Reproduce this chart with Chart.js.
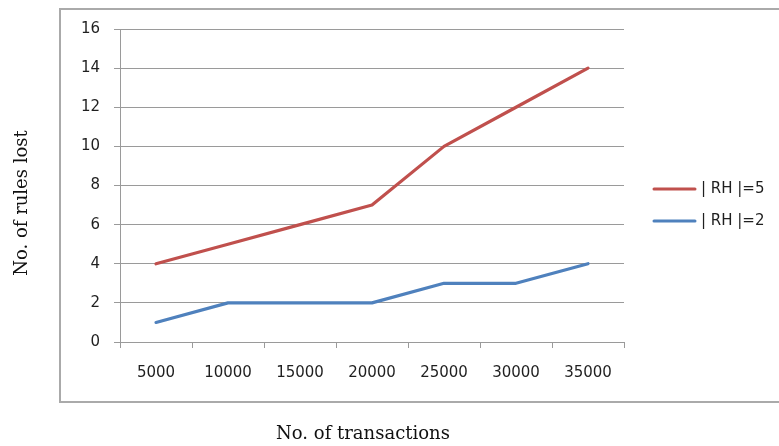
<!DOCTYPE html>
<html>
<head>
<meta charset="utf-8">
<script src="https://cdn.jsdelivr.net/npm/chart.js@4"></script>
<style>
  html, body { margin: 0; padding: 0; background: #fff; overflow: hidden; }
  #wrap { width: 779px; height: 446px; overflow: hidden; }
  #c { display: block; }
</style>
</head>
<body>
<div id="wrap"><canvas id="c" width="779" height="446"></canvas></div>
<script>
// Number of transactions on the x axis
const transactions = ['5000', '10000', '15000', '20000', '25000', '30000', '35000'];
// Rules lost for each right-hand-side size
const rulesLostRH5 = [4, 5, 6, 7, 10, 12, 14];
const rulesLostRH2 = [1, 2, 2, 2, 3, 3, 4];
const seriesNames = ['| RH |=5', '| RH |=2'];
const seriesColors = ['#c0504d', '#4f81bd'];
const yMin = 0, yMax = 16, yStep = 2;
const xTitle = 'No. of transactions';
const yTitle = 'No. of rules lost';

const tickFont = { family: 'DejaVu Sans', size: 15 };
const titleFont = '18px "DejaVu Serif"';
const gridColor = '#9a9a9a';
const textColor = '#1f1f1f';

// Frame, axis titles and legend drawn around the plot
const decorations = {
  id: 'decorations',
  beforeDraw(chart) {
    const ctx = chart.ctx;
    ctx.save();
    ctx.strokeStyle = '#aaaaaa';
    ctx.lineWidth = 2;
    ctx.beginPath();
    ctx.moveTo(779, 9);
    ctx.lineTo(60, 9);
    ctx.lineTo(60, 402);
    ctx.lineTo(779, 402);
    ctx.stroke();
    ctx.restore();
  },
  afterDraw(chart) {
    const ctx = chart.ctx;
    ctx.save();
    ctx.fillStyle = '#111';
    ctx.font = titleFont;
    ctx.textAlign = 'center';
    ctx.textBaseline = 'middle';
    ctx.fillText(xTitle, 363, 434);
    ctx.translate(22, 203);
    ctx.rotate(-Math.PI / 2);
    ctx.fillText(yTitle, 0, 0);
    ctx.restore();

    ctx.save();
    ctx.font = tickFont.size + 'px "' + tickFont.family + '"';
    ctx.textAlign = 'left';
    ctx.textBaseline = 'middle';
    chart.data.datasets.forEach((ds, i) => {
      const y = 189 + i * 32;
      ctx.strokeStyle = ds.borderColor;
      ctx.lineWidth = 3;
      ctx.lineCap = 'round';
      ctx.beginPath();
      ctx.moveTo(654, y);
      ctx.lineTo(695, y);
      ctx.stroke();
      ctx.fillStyle = textColor;
      ctx.fillText(ds.label, 701, y);
    });
    ctx.restore();
  }
};

new Chart(document.getElementById('c'), {
  type: 'line',
  data: {
    labels: transactions,
    datasets: [
      { label: seriesNames[0], data: rulesLostRH5, borderColor: seriesColors[0] },
      { label: seriesNames[1], data: rulesLostRH2, borderColor: seriesColors[1] }
    ]
  },
  options: {
    responsive: false,
    animation: false,
    devicePixelRatio: 1,
    layout: { padding: { left: 0, top: 29, right: 155, bottom: 0 } },
    elements: {
      point: { radius: 0, hoverRadius: 0 },
      line: { borderWidth: 3.2, tension: 0, borderCapStyle: 'round', borderJoinStyle: 'round', fill: false }
    },
    plugins: { legend: { display: false }, tooltip: { enabled: false } },
    scales: {
      x: {
        type: 'category',
        offset: true,
        grid: { display: true, drawOnChartArea: false, drawTicks: true, tickLength: 6, offset: true, color: gridColor },
        border: { display: true, color: gridColor, width: 1 },
        ticks: { font: tickFont, color: textColor, padding: 16, maxRotation: 0, autoSkip: false },
        afterFit(scale) { scale.height = 104; }
      },
      y: {
        min: yMin,
        max: yMax,
        grid: { color: gridColor, tickLength: 6 },
        border: { display: true, color: gridColor, width: 1 },
        ticks: { stepSize: yStep, font: tickFont, color: textColor, padding: 14 },
        afterFit(scale) { scale.width = 120; }
      }
    }
  },
  plugins: [decorations]
});
</script>
</body>
</html>
